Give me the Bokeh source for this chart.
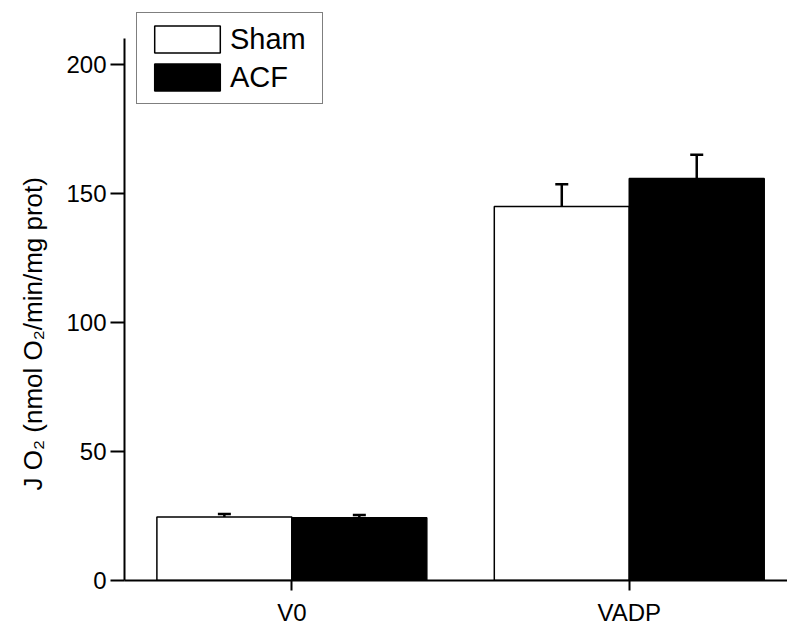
from bokeh.plotting import figure
from bokeh.models import (ColumnDataSource, Range1d, FixedTicker, Whisker, TeeHead,
                          Legend, LegendItem, Title)
from bokeh.transform import dodge
from bokeh.embed import file_html
from bokeh.resources import INLINE

# Oxygen consumption per condition (mean and SEM)
conditions = ["V0", "VADP"]
groups = ["Sham", "ACF"]
sham_mean = [24.6, 145.0]
sham_sem = [1.2, 8.6]
acf_mean = [24.3, 155.8]
acf_sem = [1.1, 9.3]
y_ticks = [0, 50, 100, 150, 200]
y_axis_max = 210

FONT = "Liberation Sans"
idx = list(range(len(conditions)))

src = ColumnDataSource(dict(
    x=idx,
    sham=sham_mean,
    sham_top=[m + e for m, e in zip(sham_mean, sham_sem)],
    acf=acf_mean,
    acf_top=[m + e for m, e in zip(acf_mean, acf_sem)],
))

# the frame reaches above the axis so the legend box is not clipped
p = figure(width=787, height=630, output_backend="svg", toolbar_location=None,
           x_range=Range1d(-0.496, 1.469), y_range=Range1d(0, 223.3),
           min_border_left=124, min_border_right=0, min_border_top=4,
           min_border_bottom=50)
p.outline_line_color = None
p.xgrid.visible = False
p.ygrid.visible = False
p.background_fill_color = "white"
p.border_fill_color = "white"

bw = 0.4
r_sham = p.vbar(x=dodge("x", -bw / 2, range=p.x_range), top="sham", width=bw,
                source=src, fill_color="white", line_color="black", line_width=1.5)
r_acf = p.vbar(x=dodge("x", bw / 2, range=p.x_range), top="acf", width=bw,
               source=src, fill_color="black", line_color="black", line_width=1.5)

for col, top, off in (("sham", "sham_top", -bw / 2), ("acf", "acf_top", bw / 2)):
    w = Whisker(source=src, base=dodge("x", off, range=p.x_range), lower=col, upper=top,
                line_color="black", line_width=2.5,
                upper_head=TeeHead(size=13, line_width=2.5, line_color="black"),
                lower_head=None)
    p.add_layout(w)

# axes
p.xaxis.ticker = FixedTicker(ticks=idx)
p.xaxis.major_label_overrides = {i: c for i, c in zip(idx, conditions)}
p.yaxis.ticker = FixedTicker(ticks=y_ticks)
p.yaxis.bounds = (0, y_axis_max)
for ax in (p.xaxis, p.yaxis):
    ax.axis_line_width = 2
    ax.axis_line_color = "black"
    ax.major_tick_line_width = 2
    ax.major_tick_line_color = "black"
    ax.major_tick_in = 0
    ax.minor_tick_line_color = None
    ax.major_label_text_font = FONT
    ax.major_label_text_font_size = "24px"
    ax.major_label_text_color = "black"
p.xaxis.major_tick_out = 10
p.xaxis.major_label_standoff = 8
p.yaxis.major_tick_out = 14
p.yaxis.major_label_standoff = 4

# y-axis title, anchored near the bottom of the axis
ytitle = Title(text="J O\u2082 (nmol O\u2082/min/mg prot)", align="left", offset=90,
               standoff=31, text_font=FONT, text_font_size="26px",
               text_font_style="normal", text_color="black")
p.add_layout(ytitle, "left")

legend = Legend(items=[LegendItem(label=groups[0], renderers=[r_sham]),
                       LegendItem(label=groups[1], renderers=[r_acf])],
                location=(12, 476), margin=0, padding=9, spacing=4,
                glyph_width=82, glyph_height=34, label_height=34, label_width=83,
                label_standoff=2, label_text_font=FONT,
                label_text_font_size="29px", label_text_color="black",
                border_line_color="black", border_line_width=1.5,
                background_fill_color="white", background_fill_alpha=1.0)
p.add_layout(legend)

open("out.html", "w").write(file_html(p, INLINE))
